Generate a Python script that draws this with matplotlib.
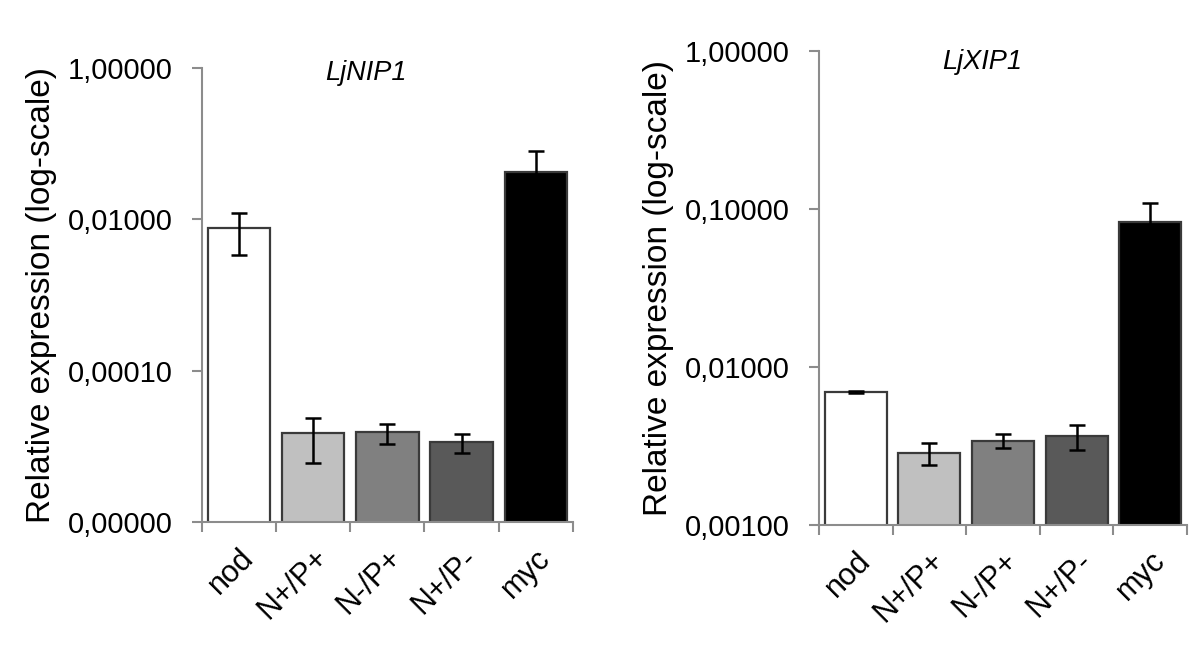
import matplotlib
matplotlib.use("Agg")
import matplotlib.pyplot as plt
from matplotlib.ticker import FuncFormatter, FixedLocator, NullLocator
from matplotlib.transforms import ScaledTranslation

plt.rcParams['font.family'] = ['Liberation Sans', 'DejaVu Sans']

# data
groups = ['nod', 'N+/P+', 'N-/P+', 'N+/P-', 'myc']
bar_colors = ['#ffffff', '#c0c0c0', '#808080', '#595959', '#000000']

nip1_vals = [0.0077, 1.5e-5, 1.53e-5, 1.14e-5, 0.042]
nip1_err = [0.0043, 0.9e-5, 0.45e-5, 0.33e-5, 0.038]
nip1_ticks = [1e-6, 1e-4, 1e-2, 1.0]

xip1_vals = [0.00695, 0.00283, 0.00339, 0.00362, 0.0828]
xip1_err = [0.0001, 0.00045, 0.00034, 0.00065, 0.026]
xip1_ticks = [1e-3, 1e-2, 1e-1, 1.0]

comma_fmt = FuncFormatter(lambda v, pos: f"{v:.5f}".replace('.', ','))
spine_col = '#8c8c8c'


def panel(fig, ax, vals, errs, ticks, title, title_y):
    x = list(range(len(groups)))
    ax.set_yscale('log')
    ax.bar(x, vals, width=0.84, color=bar_colors, edgecolor='#3a3a3a',
           linewidth=1.6, zorder=2)
    ax.errorbar(x, vals, yerr=errs, fmt='none', ecolor='black',
                elinewidth=1.8, capsize=6, capthick=1.8, zorder=3)
    ax.set_xlim(-0.5, len(groups) - 0.5)
    ax.set_ylim(ticks[0], ticks[-1])
    ax.yaxis.set_major_locator(FixedLocator(ticks))
    ax.yaxis.set_minor_locator(NullLocator())
    ax.yaxis.set_major_formatter(comma_fmt)
    ax.set_xticks(x)
    ax.set_xticklabels(groups, rotation=45, ha='right', va='top',
                       rotation_mode='anchor', fontsize=22)
    shift = ScaledTranslation(1 / 100, 0, fig.dpi_scale_trans)
    for lab in ax.get_xticklabels():
        lab.set_transform(lab.get_transform() + shift)
    ax.set_xticks([i - 0.5 for i in range(len(groups) + 1)], minor=True)
    ax.tick_params(axis='x', which='major', length=0, pad=15)
    ax.tick_params(axis='x', which='minor', length=7, color=spine_col,
                   width=1.5, direction='out')
    ax.tick_params(axis='y', length=7, color=spine_col, width=1.5,
                   labelsize=21, pad=14)
    for s in ['top', 'right']:
        ax.spines[s].set_visible(False)
    for s in ['left', 'bottom']:
        ax.spines[s].set_color(spine_col)
        ax.spines[s].set_linewidth(1.5)
    ax.set_ylabel('Relative expression (log-scale)', fontsize=24, labelpad=8)
    ax.text(0.443, title_y, title, transform=ax.transAxes, ha='center',
            va='center', fontsize=19.5, style='italic')


fig = plt.figure(figsize=(12, 6.66), dpi=100)
ax1 = fig.add_axes([0.1683, 0.2162, 0.309, 0.6817])
ax2 = fig.add_axes([0.6825, 0.2122, 0.3067, 0.7117])

panel(fig, ax1, nip1_vals, nip1_err, nip1_ticks, 'LjNIP1', 0.989)
panel(fig, ax2, xip1_vals, xip1_err, xip1_ticks, 'LjXIP1', 0.976)

fig.savefig('out.png', dpi=100)
